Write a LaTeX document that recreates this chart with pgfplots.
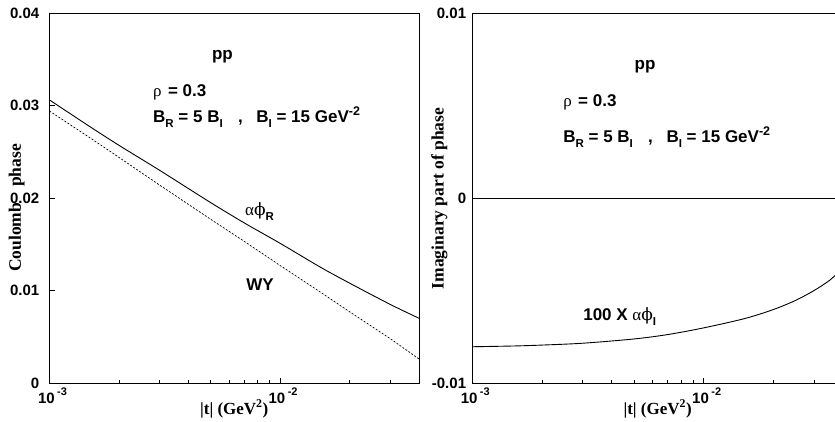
\documentclass[border=0pt]{standalone}
\usepackage{fontspec}
\setmainfont{Liberation Sans}
\newfontfamily\serifb{Liberation Serif}
\newfontfamily\grk{Liberation Serif}
\newfontfamily\phif{DejaVu Serif}
\usepackage{pgfplots}
\pgfplotsset{compat=1.18}

\newcommand{\al}{{\grk α}}
\newcommand{\ph}{{\phif ϕ}}
\newcommand{\ann}{\fontsize{17}{20}\selectfont\bfseries}
\newcommand{\yt}[1]{{\fontsize{15}{16}\selectfont\bfseries #1}}
\newcommand{\xl}[1]{{\fontsize{15}{16}\selectfont\bfseries 10\,\raisebox{0.5em}{\fontsize{11}{11}\selectfont\bfseries #1}}}
\newcommand{\sub}[1]{\raisebox{-0.3em}{\fontsize{11.5}{12}\selectfont #1}}
\newcommand{\params}{B\sub{R} = 5 B\sub{I}\hspace{0.9em},\hspace{0.8em}B\sub{I} = 15 GeV\raisebox{0.45em}{\fontsize{12.5}{13}\selectfont -2}}

\begin{document}
\begin{tikzpicture}

% left panel: Coulomb phase
\begin{axis}[
  at={(49.5pt,38pt)}, anchor=south west,
  scale only axis, width=369.5pt, height=370pt,
  xmode=log, xmin=0.001, xmax=0.04,
  ymin=0, ymax=0.04,
  scaled y ticks=false,
  xtick={0.001,0.01},
  xticklabels={\xl{-3},\xl{-2}},
  minor xtick={0.002,0.003,0.004,0.005,0.006,0.007,0.008,0.009,0.02,0.03},
  ytick={0,0.01,0.02,0.03,0.04},
  yticklabels={\yt{0},\yt{0.01},\yt{0.02},\yt{0.03},\yt{0.04}},
  xtick pos=left, ytick pos=left,
  tick align=inside,
  major tick length=5.5pt, minor tick length=2.7pt,
  tick style={black, line width=0.8pt},
  axis line style={line width=0.9pt},
  xticklabel style={anchor=base, inner sep=0pt, yshift=-20pt, xshift=3pt},
  yticklabel style={anchor=east, inner sep=0pt, xshift=-10pt},
  xlabel={\serifb\bfseries |t| (GeV\textsuperscript{2})},
  xlabel style={font=\fontsize{17}{20}\selectfont, at={(axis description cs:0.5,-0.084)}, anchor=base},
  ylabel={\serifb\bfseries Coulomb\hspace{0.9em}phase},
  ylabel style={font=\fontsize{17.5}{20}\selectfont, at={(axis description cs:-0.089,0.473)}, anchor=center},
]
% alpha phi_R
\addplot[black, line width=0.9pt, smooth] coordinates {
  (0.001,0.0306) (0.0015,0.0277) (0.002,0.0257) (0.003,0.0230)
  (0.005,0.0195) (0.007,0.0173) (0.01,0.0151) (0.015,0.0125)
  (0.02,0.0108) (0.03,0.0085) (0.04,0.0070)
};
% WY
\addplot[black, dash pattern=on 2pt off 1.6pt, line width=0.7pt] coordinates {
  (0.001,0.0294) (0.0015,0.0265) (0.002,0.0244) (0.003,0.0214)
  (0.005,0.0177) (0.007,0.0153) (0.01,0.0127) (0.015,0.0098)
  (0.02,0.0077) (0.03,0.0048) (0.04,0.0026)
};
\node[font=\ann, anchor=base, inner sep=0pt] at (rel axis cs:0.468,0.873) {pp};
\node[font=\ann, anchor=base west, inner sep=0pt] at (rel axis cs:0.280,0.773) {{\grk\mdseries ρ}\hspace{0.1em} = 0.3};
\node[font=\ann, anchor=base west, inner sep=0pt] at (rel axis cs:0.280,0.703) {\params};
\node[font=\ann, anchor=base west, inner sep=0pt] at (rel axis cs:0.529,0.454) {{\mdseries\al\ph}\sub{R}};
\node[font=\ann, anchor=base west, inner sep=0pt] at (rel axis cs:0.532,0.249) {WY};
\end{axis}

% right panel: imaginary part
\begin{axis}[
  at={(472.3pt,38pt)}, anchor=south west,
  scale only axis, width=370.7pt, height=370pt,
  xmode=log, xmin=0.001, xmax=0.04,
  ymin=-0.01, ymax=0.01,
  scaled y ticks=false,
  xtick={0.001,0.01},
  xticklabels={\xl{-3},\xl{-2}},
  minor xtick={0.002,0.003,0.004,0.005,0.006,0.007,0.008,0.009,0.02,0.03},
  ytick={-0.01,0,0.01},
  yticklabels={\yt{-0.01},\yt{0},\yt{0.01}},
  xtick pos=left, ytick pos=left,
  tick align=inside,
  major tick length=5.5pt, minor tick length=2.7pt,
  tick style={black, line width=0.8pt},
  axis line style={line width=0.9pt},
  xticklabel style={anchor=base, inner sep=0pt, yshift=-20pt, xshift=3pt},
  yticklabel style={anchor=east, inner sep=0pt, xshift=-6pt},
  xlabel={\serifb\bfseries |t| (GeV\textsuperscript{2})},
  xlabel style={font=\fontsize{17}{20}\selectfont, at={(axis description cs:0.5,-0.084)}, anchor=base},
  ylabel={\serifb\bfseries Imaginary part of phase},
  ylabel style={font=\fontsize{17.5}{20}\selectfont, at={(axis description cs:-0.0885,0.4986)}, anchor=center},
]
\addplot[black, line width=0.8pt] coordinates {(0.001,0) (0.04,0)};
% 100 x alpha phi_I
\addplot[black, line width=0.9pt, smooth] coordinates {
  (0.001,-0.00804) (0.0015,-0.00800) (0.002,-0.00795) (0.003,-0.00785)
  (0.005,-0.00762) (0.007,-0.00738) (0.01,-0.00702) (0.015,-0.00652)
  (0.02,-0.00603) (0.025,-0.00553) (0.03,-0.00500) (0.035,-0.00445) (0.04,-0.00378)
};
\node[font=\ann, anchor=base, inner sep=0pt] at (rel axis cs:0.466,0.846) {pp};
\node[font=\ann, anchor=base west, inner sep=0pt] at (rel axis cs:0.245,0.746) {{\grk\mdseries ρ}\hspace{0.1em} = 0.3};
\node[font=\ann, anchor=base west, inner sep=0pt] at (rel axis cs:0.245,0.649) {\params};
\node[font=\ann, anchor=base west, inner sep=0pt] at (rel axis cs:0.299,0.170) {100 X {\mdseries\al\ph}\sub{I}};
\end{axis}

\pgfresetboundingbox
\path[use as bounding box] (0,0) rectangle (835pt,421pt);
\end{tikzpicture}
\end{document}
